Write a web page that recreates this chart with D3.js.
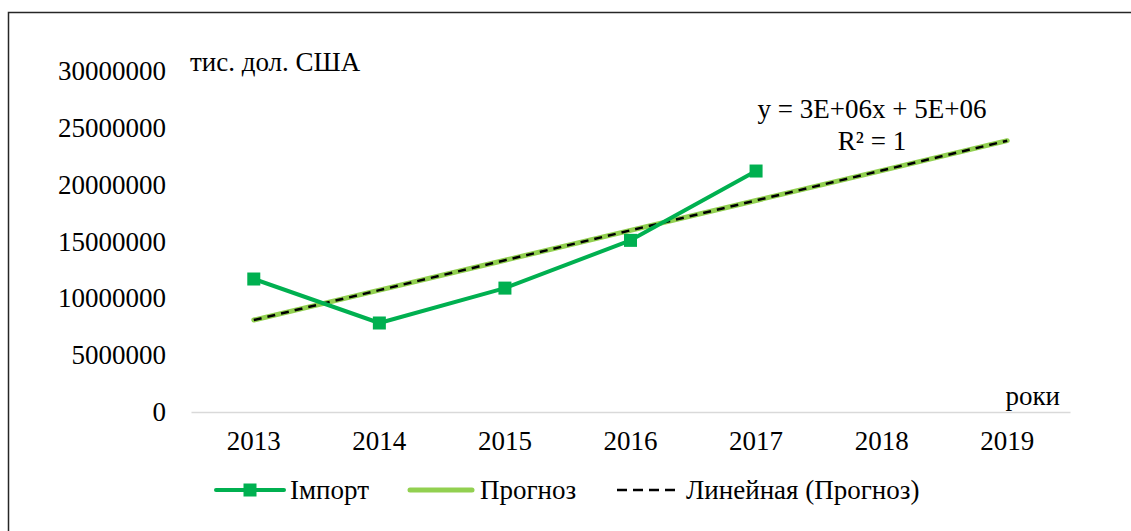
<!DOCTYPE html>
<html lang="uk">
<head>
    <meta charset="UTF-8">
    <title>Імпорт та прогноз</title>
    <script src="https://d3js.org/d3.v7.min.js"></script>
    <style>
        body { margin: 0; background: #fff; }
        svg { display: block; font-family: "Liberation Serif", "Times New Roman", serif; }
    </style>
</head>
<body>
    <div id="chart"></div>
    <script>
        // data
        const years = ["2013", "2014", "2015", "2016", "2017", "2018", "2019"];
        const importValues = [11700000, 7830000, 10900000, 15100000, 21200000];
        const forecastValues = [8090000, 10720000, 13350000, 15980000, 18610000, 21240000, 23870000];
        const yTicks = [0, 5000000, 10000000, 15000000, 20000000, 25000000, 30000000];
        const legendLabels = ["Імпорт", "Прогноз", "Линейная (Прогноз)"];

        const W = 1131, H = 531;
        const margin = { top: 71, right: 61, bottom: 119, left: 191 };
        const fs = 27;

        const svg = d3.select("#chart").append("svg")
            .attr("width", W).attr("height", H);

        // outer frame
        svg.append("rect")
            .attr("x", 8.5).attr("y", 12.5)
            .attr("width", 1130).attr("height", 540)
            .attr("fill", "none").attr("stroke", "#262626").attr("stroke-width", 1.5);

        const x = d3.scaleBand().domain(years).range([margin.left, W - margin.right]);
        const y = d3.scaleLinear().domain([0, 30000000]).range([H - margin.bottom, margin.top]);
        const cx = d => x(d) + x.bandwidth() / 2;

        // y axis labels
        const yAxis = svg.append("g")
            .attr("font-family", null)
            .attr("transform", `translate(${margin.left - 25},0)`)
            .call(d3.axisLeft(y).tickValues(yTicks).tickSize(0).tickPadding(0).tickFormat(d3.format("d")));
        yAxis.attr("font-family", "Liberation Serif");
        yAxis.select(".domain").remove();
        yAxis.selectAll("text").attr("font-size", fs).attr("fill", "#000");

        // x axis
        const xAxis = svg.append("g")
            .attr("transform", `translate(0,${y(0)})`)
            .call(d3.axisBottom(x).tickSize(0).tickPadding(19));
        xAxis.attr("font-family", "Liberation Serif");
        xAxis.select(".domain").attr("stroke", "#d9d9d9").attr("stroke-width", 1.5);
        xAxis.selectAll("text").attr("font-size", fs).attr("fill", "#000");

        // forecast line
        const line = d3.line().x((d, i) => cx(years[i])).y(d => y(d));
        svg.append("path").datum(forecastValues)
            .attr("d", line).attr("fill", "none")
            .attr("stroke", "#92d050").attr("stroke-width", 5).attr("stroke-linecap", "round");

        // linear trend of forecast
        svg.append("path").datum(forecastValues)
            .attr("d", line).attr("fill", "none")
            .attr("stroke", "#000").attr("stroke-width", 2.5).attr("stroke-dasharray", "8,6");

        // import line
        svg.append("path").datum(importValues)
            .attr("d", line).attr("fill", "none")
            .attr("stroke", "#00b050").attr("stroke-width", 4).attr("stroke-linejoin", "round");
        svg.selectAll(".marker").data(importValues).enter().append("rect")
            .attr("class", "marker")
            .attr("x", (d, i) => cx(years[i]) - 6.5)
            .attr("y", d => y(d) - 6.5)
            .attr("width", 13).attr("height", 13)
            .attr("fill", "#00b050");

        // annotations
        svg.append("text").attr("x", 190).attr("y", 71)
            .attr("font-size", fs).text("тис. дол. США");
        svg.append("text").attr("x", 1060).attr("y", 405)
            .attr("text-anchor", "end").attr("font-size", fs).text("роки");
        svg.append("text").attr("x", 872).attr("y", 118)
            .attr("text-anchor", "middle").attr("font-size", fs).text("y = 3E+06x + 5E+06");
        svg.append("text").attr("x", 872).attr("y", 150)
            .attr("text-anchor", "middle").attr("font-size", fs).text("R² = 1");

        // legend
        const ly = 490;
        const lg = svg.append("g");
        lg.append("line").attr("x1", 216).attr("x2", 284).attr("y1", ly).attr("y2", ly)
            .attr("stroke", "#00b050").attr("stroke-width", 4).attr("stroke-linecap", "round");
        lg.append("rect").attr("x", 250 - 6.5).attr("y", ly - 6.5).attr("width", 13).attr("height", 13).attr("fill", "#00b050");
        lg.append("text").attr("x", 290).attr("y", ly + 9).attr("font-size", fs).text(legendLabels[0]);

        lg.append("line").attr("x1", 410).attr("x2", 472).attr("y1", ly).attr("y2", ly)
            .attr("stroke", "#92d050").attr("stroke-width", 5).attr("stroke-linecap", "round");
        lg.append("text").attr("x", 480).attr("y", ly + 9).attr("font-size", fs).text(legendLabels[1]);

        lg.append("line").attr("x1", 617).attr("x2", 676).attr("y1", ly).attr("y2", ly)
            .attr("stroke", "#000").attr("stroke-width", 2.5).attr("stroke-dasharray", "10,6");
        lg.append("text").attr("x", 686).attr("y", ly + 9).attr("font-size", fs).text(legendLabels[2]);
    </script>
</body>
</html>
